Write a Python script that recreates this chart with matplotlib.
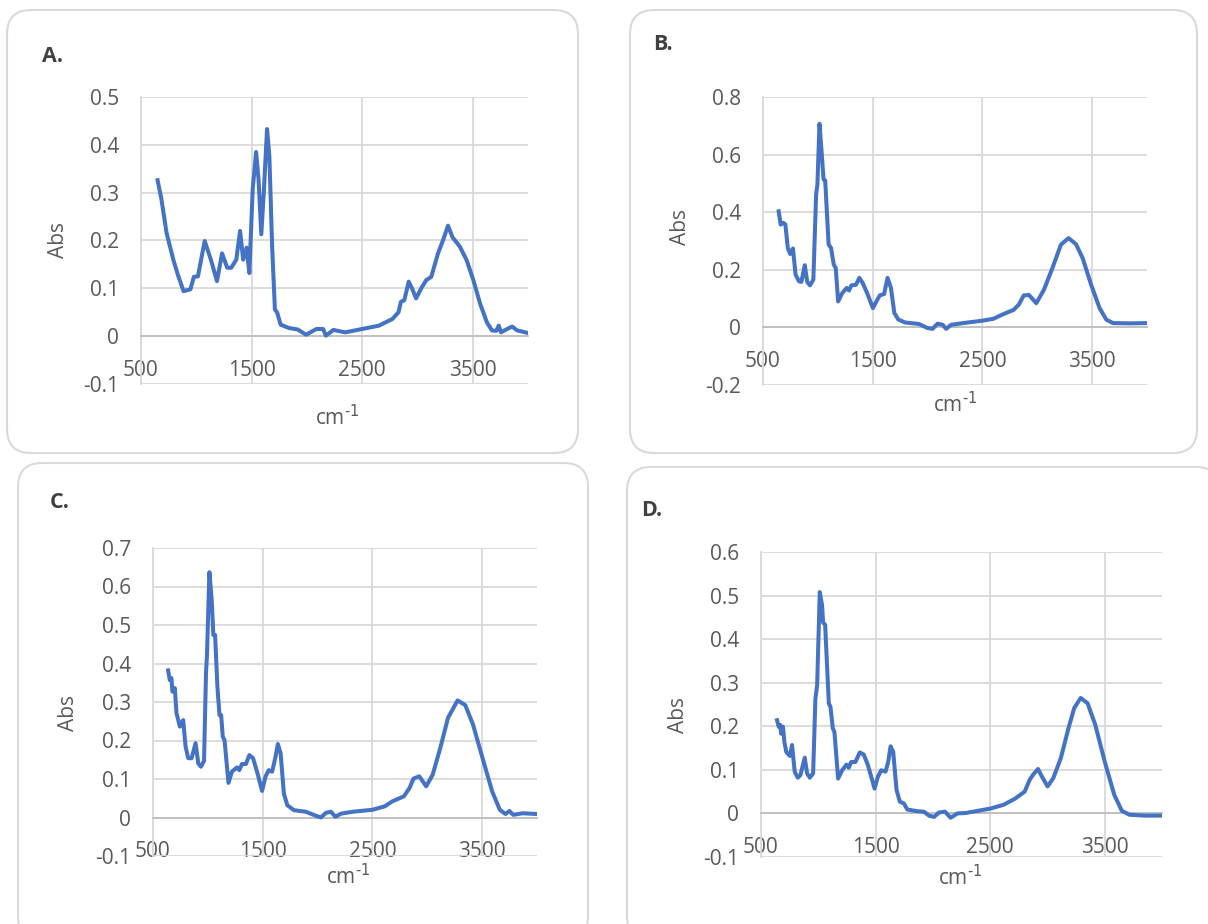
import matplotlib
matplotlib.use("Agg")
import matplotlib.pyplot as plt
from matplotlib.patches import FancyBboxPatch
from matplotlib.transforms import IdentityTransform

plt.rcParams['font.family'] = ['Open Sans', 'DejaVu Sans']
plt.rcParams['mathtext.default'] = 'regular'

# ---- data (wavenumber cm-1, absorbance) ----
a_wn = [650, 685, 731, 792, 838, 885, 947, 978, 1015, 1076, 1132, 1187, 1233, 1280, 1316,
        1362, 1396, 1424, 1455, 1480, 1510, 1541, 1563, 1588, 1612, 1640, 1661, 1686, 1711,
        1732, 1763, 1840, 1917, 1994, 2086, 2147, 2172, 2240, 2347, 2500, 2652, 2774, 2829,
        2851, 2881, 2921, 2951, 2988, 3034, 3079, 3125, 3186, 3232, 3277, 3317, 3384, 3445,
        3506, 3567, 3628, 3674, 3713, 3735, 3756, 3811, 3857, 3902, 3994]
a_abs = [0.326, 0.286, 0.216, 0.160, 0.125, 0.094, 0.098, 0.124, 0.125, 0.199, 0.160, 0.115,
         0.173, 0.143, 0.143, 0.160, 0.220, 0.160, 0.185, 0.132, 0.307, 0.385, 0.328, 0.213,
         0.307, 0.433, 0.376, 0.188, 0.056, 0.049, 0.024, 0.017, 0.014, 0.003, 0.015, 0.015,
         0.001, 0.013, 0.008, 0.015, 0.022, 0.036, 0.050, 0.072, 0.075, 0.114, 0.100, 0.079,
         0.100, 0.117, 0.124, 0.173, 0.201, 0.231, 0.207, 0.187, 0.159, 0.117, 0.068, 0.029,
         0.012, 0.011, 0.022, 0.008, 0.015, 0.020, 0.012, 0.007]

b_wn = [643, 661, 686, 704, 726, 748, 773, 797, 828, 850, 881, 903, 928, 959, 984, 996, 1015,
        1036, 1052, 1067, 1098, 1120, 1145, 1163, 1185, 1222, 1263, 1284, 1306, 1347, 1378,
        1409, 1449, 1502, 1533, 1564, 1604, 1635, 1666, 1697, 1734, 1796, 1920, 1998, 2045,
        2091, 2138, 2169, 2215, 2324, 2494, 2601, 2678, 2785, 2831, 2877, 2923, 2991, 3061,
        3138, 3215, 3285, 3353, 3414, 3491, 3568, 3629, 3690, 3844, 4000]
b_abs = [0.403, 0.357, 0.363, 0.357, 0.276, 0.255, 0.274, 0.183, 0.160, 0.158, 0.216, 0.158,
         0.146, 0.166, 0.461, 0.496, 0.707, 0.600, 0.514, 0.510, 0.288, 0.276, 0.218, 0.206,
         0.090, 0.119, 0.137, 0.128, 0.146, 0.148, 0.172, 0.154, 0.119, 0.067, 0.090, 0.111,
         0.116, 0.172, 0.137, 0.050, 0.027, 0.017, 0.012, -0.002, -0.005, 0.013, 0.009, -0.005,
         0.009, 0.015, 0.023, 0.030, 0.044, 0.061, 0.079, 0.111, 0.113, 0.084, 0.131, 0.206,
         0.287, 0.310, 0.289, 0.240, 0.148, 0.067, 0.027, 0.015, 0.014, 0.015]

c_wn = [638, 653, 668, 677, 699, 714, 745, 775, 797, 821, 852, 888, 913, 937, 965, 983, 992,
        1014, 1035, 1050, 1066, 1087, 1106, 1121, 1136, 1152, 1188, 1219, 1265, 1286, 1311,
        1347, 1378, 1412, 1457, 1494, 1525, 1555, 1586, 1617, 1638, 1663, 1693, 1724, 1785,
        1892, 1999, 2030, 2076, 2122, 2162, 2214, 2321, 2500, 2612, 2682, 2787, 2839, 2874,
        2927, 2990, 3049, 3119, 3189, 3276, 3346, 3416, 3503, 3591, 3661, 3713, 3748, 3783,
        3871, 4000]
c_abs = [0.382, 0.357, 0.362, 0.327, 0.336, 0.271, 0.236, 0.253, 0.184, 0.154, 0.154, 0.193,
         0.140, 0.132, 0.147, 0.375, 0.422, 0.637, 0.565, 0.474, 0.474, 0.340, 0.266, 0.266,
         0.210, 0.201, 0.090, 0.119, 0.130, 0.123, 0.139, 0.139, 0.162, 0.154, 0.110, 0.069,
         0.106, 0.123, 0.119, 0.158, 0.191, 0.167, 0.062, 0.032, 0.019, 0.015, 0.003, 0.000,
         0.012, 0.015, 0.002, 0.010, 0.015, 0.020, 0.029, 0.042, 0.055, 0.077, 0.101, 0.107,
         0.081, 0.111, 0.181, 0.259, 0.304, 0.292, 0.242, 0.155, 0.068, 0.020, 0.009, 0.017,
         0.007, 0.011, 0.009]

d_wn = [640, 655, 669, 675, 692, 704, 721, 751, 771, 794, 821, 844, 882, 902, 926, 955, 975,
        990, 1013, 1033, 1042, 1060, 1092, 1106, 1127, 1141, 1173, 1208, 1246, 1266, 1287,
        1324, 1362, 1397, 1433, 1471, 1491, 1520, 1549, 1587, 1610, 1631, 1654, 1683, 1712,
        1747, 1777, 1864, 1922, 1966, 2010, 2053, 2106, 2155, 2214, 2286, 2500, 2619, 2718,
        2801, 2845, 2878, 2918, 2951, 3001, 3051, 3117, 3184, 3234, 3290, 3350, 3417, 3500,
        3583, 3649, 3716, 3849, 3999]
d_abs = [0.214, 0.199, 0.203, 0.183, 0.199, 0.164, 0.141, 0.132, 0.157, 0.096, 0.082, 0.088,
         0.128, 0.092, 0.082, 0.092, 0.264, 0.294, 0.508, 0.478, 0.438, 0.433, 0.252, 0.245,
         0.195, 0.187, 0.080, 0.099, 0.112, 0.105, 0.118, 0.118, 0.140, 0.135, 0.111, 0.076,
         0.057, 0.084, 0.099, 0.096, 0.118, 0.154, 0.141, 0.054, 0.027, 0.023, 0.009, 0.005,
         0.004, -0.005, -0.008, 0.002, 0.004, -0.010, 0.000, 0.001, 0.011, 0.020, 0.034,
         0.050, 0.077, 0.090, 0.102, 0.085, 0.062, 0.081, 0.127, 0.196, 0.242, 0.265, 0.253,
         0.204, 0.119, 0.043, 0.006, -0.003, -0.005, -0.005]

x_ticks = [500, 1500, 2500, 3500]
a_yticks = [-0.1, 0, 0.1, 0.2, 0.3, 0.4, 0.5]
b_yticks = [-0.2, 0, 0.2, 0.4, 0.6, 0.8]
c_yticks = [-0.1, 0, 0.1, 0.2, 0.3, 0.4, 0.5, 0.6, 0.7]
d_yticks = [-0.1, 0, 0.1, 0.2, 0.3, 0.4, 0.5, 0.6]

W, H = 1208, 924
fig = plt.figure(figsize=(W / 100, H / 100), dpi=100)

GRID = '#d9d9d9'
TXT = '#595959'
BLUE = '#4472C4'

# rounded frames (pixels, top-left origin)
frames = [(7, 10, 578, 453), (630, 10, 1197, 453), (18, 463, 588, 940), (627, 467, 1220, 940)]
for x0, y0, x1, y1 in frames:
    fig.add_artist(FancyBboxPatch((x0, H - y1), x1 - x0, y1 - y0,
                                  boxstyle="round,pad=0,rounding_size=24",
                                  transform=IdentityTransform(), fc='white',
                                  ec=GRID, lw=1.5, zorder=0))


def fmt(v):
    return '0' if v == 0 else '%g' % v


panels = [
    # name, wn, abs, yticks, axes px (x0, x1, top, bottom), label xy, Abs xy, cm xy
    ('A.', a_wn, a_abs, a_yticks, (141, 528, 97, 384), (52, 57), (58, 240), (337, 418)),
    ('B.', b_wn, b_abs, b_yticks, (763, 1147, 97, 385), (663, 44), (681, 227), (955, 405)),
    ('C.', c_wn, c_abs, c_yticks, (153, 537, 548, 856), (60, 503), (68, 713), (348, 877)),
    ('D.', d_wn, d_abs, d_yticks, (761, 1162, 552, 857), (652, 510), (678, 715), (960, 878)),
]

for name, wn, ab, yt, (x0, x1, yt0, yb0), lab, ylab, xlab in panels:
    ax = fig.add_axes([x0 / W, 1 - yb0 / H, (x1 - x0) / W, (yb0 - yt0) / H])
    ax.set_facecolor('none')
    ax.plot(wn, ab, color=BLUE, lw=2.9, solid_joinstyle='round', zorder=3)
    ax.set_xlim(500, 4000)
    ax.set_ylim(yt[0], yt[-1])
    ax.set_xticks(x_ticks)
    ax.set_xticklabels([str(t) for t in x_ticks])
    ax.set_yticks(yt)
    ax.set_yticklabels([fmt(v) for v in yt])
    ax.set_axisbelow(True)
    ax.grid(True, color=GRID, lw=1.3)
    for s in ['top', 'right']:
        ax.spines[s].set_visible(False)
    ax.spines['bottom'].set_position(('data', 0))
    ax.spines['bottom'].set_color('#bfbfbf')
    ax.spines['bottom'].set_linewidth(1.3)
    ax.spines['left'].set_color(GRID)
    ax.spines['left'].set_linewidth(1.3)
    ax.tick_params(axis='x', length=0, pad=17, labelsize=15, labelcolor=TXT)
    ax.tick_params(axis='y', length=0, pad=16, labelsize=15, labelcolor=TXT)

    fig.text(lab[0] / W, 1 - lab[1] / H, name, fontsize=15.5, fontweight='bold',
             color='#404040', ha='center', va='center')
    fig.text(ylab[0] / W, 1 - ylab[1] / H, 'Abs', fontsize=15, color=TXT,
             rotation=90, ha='center', va='center')
    fig.text(xlab[0] / W, 1 - xlab[1] / H, r'cm$^{\text{-1}}$', fontsize=15, color=TXT,
             ha='center', va='center')

fig.savefig('out.png', dpi=100)
